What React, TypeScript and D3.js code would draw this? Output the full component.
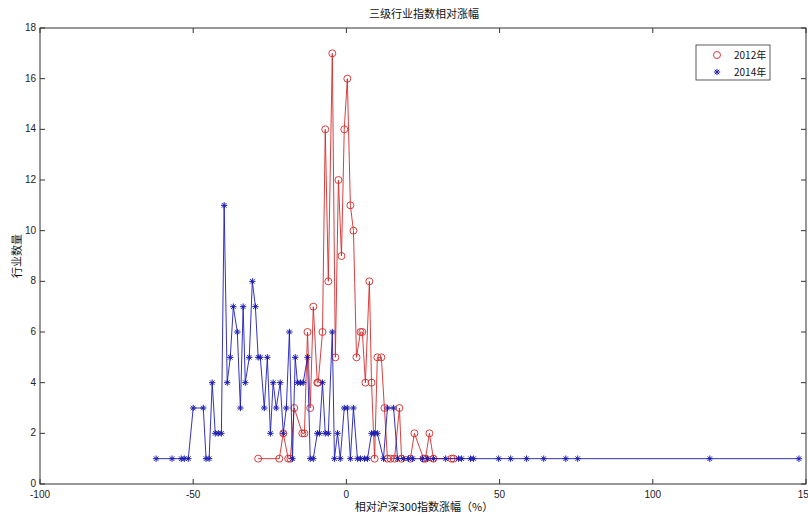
import React, { useEffect, useRef } from 'react';
import * as d3 from 'd3';

// 2012 series: relative change (%) and number of industries
const x2012 = [-28.8, -21.9, -20.6, -19.0, -18.3, -17.0, -14.4, -13.7, -12.7, -11.8, -10.8, -9.5, -9.2, -7.8, -6.9, -5.9, -4.6, -3.6, -2.6, -1.6, -0.7, 0.3, 1.3, 2.3, 3.3, 4.6, 5.2, 6.2, 7.5, 8.2, 9.2, 10.1, 11.4, 12.4, 13.4, 14.4, 15.7, 17.3, 18.0, 20.9, 22.2, 25.2, 25.8, 27.1, 28.4, 34.3, 35.0];
const y2012 = [1, 1, 2, 1, 1, 3, 2, 2, 6, 3, 7, 4, 4, 6, 14, 8, 17, 5, 12, 9, 14, 16, 11, 10, 5, 6, 6, 4, 8, 4, 1, 5, 5, 3, 1, 1, 1, 3, 1, 1, 2, 1, 1, 2, 1, 1, 1];

// 2014 series
const x2014 = [-62.1, -56.9, -53.9, -52.9, -51.6, -50.0, -46.7, -45.8, -44.8, -43.8, -42.8, -41.8, -40.8, -39.9, -38.9, -37.9, -36.9, -35.6, -34.6, -33.7, -33.0, -31.7, -30.7, -29.7, -28.8, -28.1, -26.8, -25.8, -24.8, -23.9, -22.9, -21.6, -20.6, -19.6, -18.6, -17.6, -16.7, -16.0, -15.0, -14.1, -12.7, -11.8, -10.8, -9.5, -8.8, -7.8, -6.9, -5.9, -4.6, -3.9, -2.9, -2.0, -0.7, 0.3, 1.3, 2.3, 3.6, 4.6, 5.9, 6.9, 8.2, 9.2, 10.1, 12.1, 13.4, 15.4, 16.7, 18.6, 20.3, 21.6, 24.8, 26.5, 28.4, 32.4, 36.6, 37.6, 40.5, 41.5, 49.7, 53.6, 58.8, 64.4, 71.6, 75.5, 118.6, 147.7];
const y2014 = [1, 1, 1, 1, 1, 3, 3, 1, 1, 4, 2, 2, 2, 11, 4, 5, 7, 6, 3, 7, 4, 5, 8, 7, 5, 5, 3, 5, 2, 4, 3, 4, 2, 3, 6, 1, 5, 4, 4, 4, 5, 1, 1, 2, 2, 4, 2, 2, 6, 1, 2, 1, 3, 3, 1, 3, 1, 1, 1, 1, 2, 2, 2, 1, 3, 3, 1, 1, 1, 1, 1, 1, 1, 1, 1, 1, 1, 1, 1, 1, 1, 1, 1, 1, 1, 1];

const xTicks = [-100, -50, 0, 50, 100, 150];
const yTicks = [0, 2, 4, 6, 8, 10, 12, 14, 16, 18];
const seriesNames = ['2012年', '2014年'];

const RED = '#d42a2a';
const BLUE = '#1c1cb4';

const App = () => {
  const ref = useRef<SVGSVGElement | null>(null);

  useEffect(() => {
    if (!ref.current) return;
    const svg = d3.select(ref.current);
    svg.selectAll('*').remove();

    const left = 40, right = 806, top = 28, bottom = 484;
    const x = d3.scaleLinear().domain([-100, 150]).range([left, right]);
    const y = d3.scaleLinear().domain([0, 18]).range([bottom, top]);
    const font = '"Liberation Sans", Arial, sans-serif';
    const cjk = '"Noto Sans CJK SC", sans-serif';

    svg.append('rect').attr('width', 808).attr('height', 516).attr('fill', '#fff');

    // ticks inside the box, on all four sides
    const tk = 5;
    xTicks.forEach(t => {
      svg.append('line').attr('x1', x(t)).attr('x2', x(t)).attr('y1', bottom).attr('y2', bottom - tk)
        .attr('stroke', '#333');
      svg.append('line').attr('x1', x(t)).attr('x2', x(t)).attr('y1', top).attr('y2', top + tk)
        .attr('stroke', '#333');
      svg.append('text').attr('x', x(t)).attr('y', bottom + 14).attr('text-anchor', 'middle')
        .style('font-family', font).style('font-size', '10px').style('fill', '#222')
        .text(t);
    });
    yTicks.forEach(t => {
      svg.append('line').attr('x1', left).attr('x2', left + tk).attr('y1', y(t)).attr('y2', y(t))
        .attr('stroke', '#333');
      svg.append('line').attr('x1', right).attr('x2', right - tk).attr('y1', y(t)).attr('y2', y(t))
        .attr('stroke', '#333');
      svg.append('text').attr('x', left - 4).attr('y', y(t) + 3).attr('text-anchor', 'end')
        .style('font-family', font).style('font-size', '10px').style('fill', '#222')
        .text(t);
    });

    svg.append('rect').attr('x', left).attr('y', top).attr('width', right - left).attr('height', bottom - top)
      .attr('fill', 'none').attr('stroke', '#333').attr('stroke-width', 1);

    const line = d3.line<[number, number]>().x(d => x(d[0])).y(d => y(d[1]));

    // 2012: red circles
    const d2012 = x2012.map((v, i) => [v, y2012[i]] as [number, number]);
    svg.append('path').datum(d2012).attr('d', line).attr('fill', 'none')
      .attr('stroke', RED).attr('stroke-width', 0.9);
    svg.selectAll('.c12').data(d2012).enter().append('circle').attr('class', 'c12')
      .attr('cx', d => x(d[0])).attr('cy', d => y(d[1])).attr('r', 3.5)
      .attr('fill', 'none').attr('stroke', RED).attr('stroke-width', 0.9);

    // 2014: blue asterisks
    const star = (cx: number, cy: number, s: number) => {
      const d = s * 0.7;
      return `M${cx - s},${cy}L${cx + s},${cy}M${cx},${cy - s}L${cx},${cy + s}` +
        `M${cx - d},${cy - d}L${cx + d},${cy + d}M${cx - d},${cy + d}L${cx + d},${cy - d}`;
    };
    const d2014 = x2014.map((v, i) => [v, y2014[i]] as [number, number]);
    svg.append('path').datum(d2014).attr('d', line).attr('fill', 'none')
      .attr('stroke', BLUE).attr('stroke-width', 0.9);
    svg.selectAll('.s14').data(d2014).enter().append('path').attr('class', 's14')
      .attr('d', d => star(x(d[0]), y(d[1]), 3.2))
      .attr('stroke', BLUE).attr('stroke-width', 1);

    // title and axis labels
    svg.append('text').attr('x', 424).attr('y', 18).attr('text-anchor', 'middle')
      .style('font-family', cjk).style('font-size', '11px').style('fill', '#111')
      .text('三级行业指数相对涨幅');
    svg.append('text').attr('x', 424).attr('y', 511).attr('text-anchor', 'middle')
      .style('font-family', cjk).style('font-size', '11px').style('fill', '#111')
      .text('相对沪深300指数涨幅（%）');
    svg.append('text').attr('transform', `translate(21,${(top + bottom) / 2}) rotate(-90)`)
      .attr('text-anchor', 'middle')
      .style('font-family', cjk).style('font-size', '11px').style('fill', '#111')
      .text('行业数量');

    // legend
    const lg = svg.append('g').attr('transform', 'translate(696,45)');
    lg.append('rect').attr('width', 74).attr('height', 35).attr('fill', '#fff')
      .attr('stroke', '#333').attr('stroke-width', 0.8);
    lg.append('circle').attr('cx', 21).attr('cy', 10).attr('r', 3.5)
      .attr('fill', 'none').attr('stroke', RED).attr('stroke-width', 0.9);
    lg.append('path').attr('d', star(21, 27, 3.2)).attr('stroke', BLUE).attr('stroke-width', 1);
    seriesNames.forEach((n, i) => {
      lg.append('text').attr('x', 38).attr('y', 14 + i * 17)
        .style('font-family', cjk).style('font-size', '10px').style('fill', '#111')
        .text(n);
    });
  }, []);

  return (
    <svg ref={ref} width={808} height={516}
      style={{ position: 'absolute', left: 0, top: 0, display: 'block' }} />
  );
};

export default App;
